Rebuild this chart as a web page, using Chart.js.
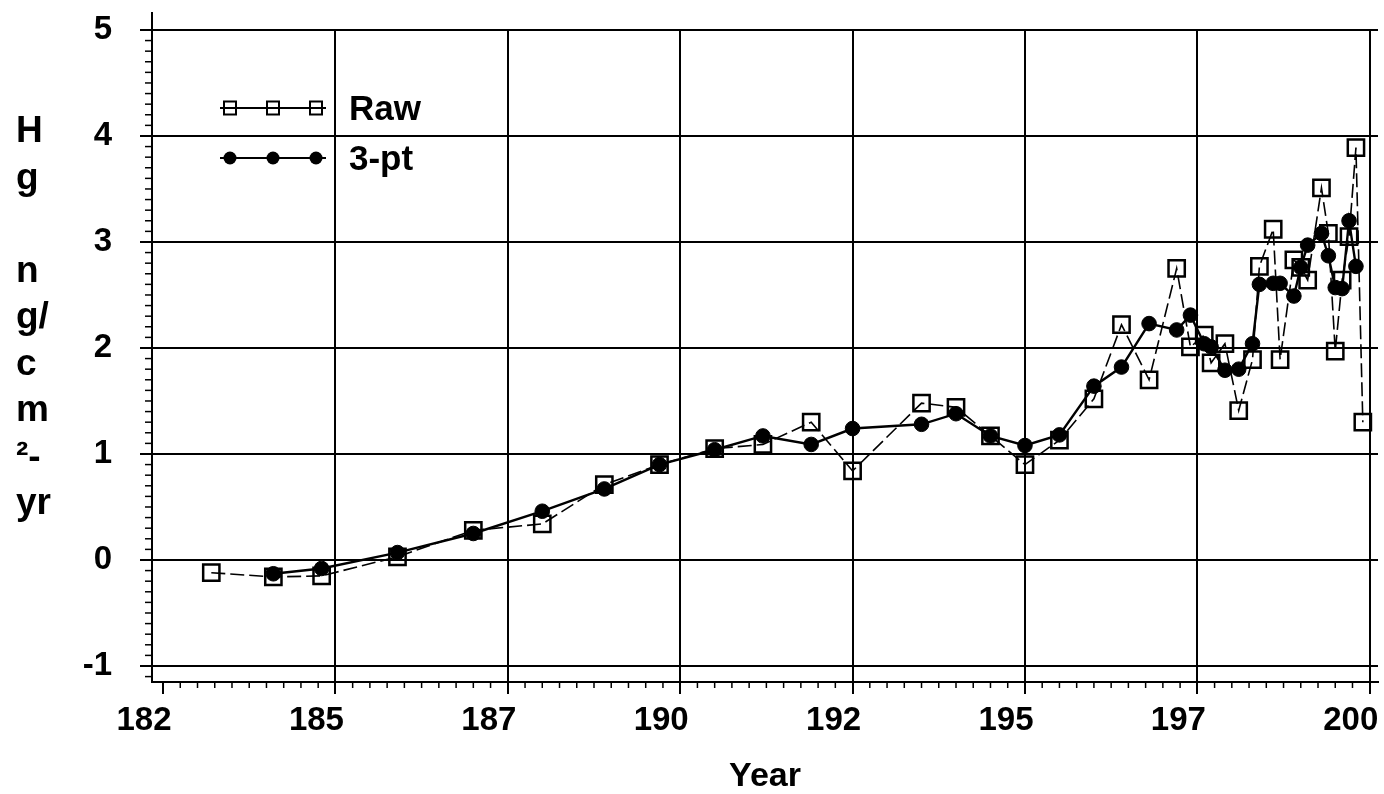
<!DOCTYPE html>
<html>
<head>
<meta charset="utf-8">
<title>Hg flux</title>
<script src="https://cdn.jsdelivr.net/npm/chart.js@4.4.0/dist/chart.umd.min.js"></script>
<style>
  html, body { margin: 0; padding: 0; background: #fff; }
  #wrap { width: 1384px; height: 794px; position: relative; }
</style>
</head>
<body>
<div id="wrap"><canvas id="c" width="1384" height="794"></canvas></div>
<script>
// Sediment core Hg accumulation (raw and 3-point running mean)
const rawYears = [1832, 1841, 1848, 1859, 1870, 1880, 1889, 1897, 1905, 1912, 1919, 1925, 1935, 1940,
  1945, 1950, 1955, 1960, 1964, 1968, 1972, 1974, 1976, 1977, 1979, 1981, 1983, 1984, 1986, 1987,
  1989, 1990, 1991, 1993, 1994, 1995, 1996, 1997, 1998, 1999];
const rawValues = [-0.12, -0.16, -0.15, 0.03, 0.28, 0.34, 0.71, 0.90, 1.05, 1.09, 1.30, 0.84, 1.48, 1.44,
  1.17, 0.90, 1.13, 1.52, 2.22, 1.70, 2.75, 2.01, 2.12, 1.86, 2.04, 1.41, 1.89, 2.77, 3.12, 1.89,
  2.83, 2.76, 2.64, 3.51, 3.08, 1.97, 2.64, 3.05, 3.89, 1.30];

const smoothYears = [1841, 1848, 1859, 1870, 1880, 1889, 1897, 1905, 1912, 1919, 1925, 1935, 1940,
  1945, 1950, 1955, 1960, 1964, 1968, 1972, 1974, 1976, 1977, 1979, 1981, 1983, 1984, 1986, 1987,
  1989, 1990, 1991, 1993, 1994, 1995, 1996, 1997, 1998];
const smoothValues = [-0.13, -0.08, 0.07, 0.25, 0.46, 0.67, 0.90, 1.04, 1.17, 1.09, 1.24, 1.28, 1.38,
  1.17, 1.08, 1.18, 1.64, 1.82, 2.23, 2.17, 2.31, 2.04, 2.01, 1.79, 1.80, 2.04, 2.60, 2.61, 2.61,
  2.49, 2.76, 2.97, 3.08, 2.87, 2.57, 2.56, 3.20, 2.77];

const seriesLabels = ['Raw', '3-pt'];
const xTickValues = [1825, 1850, 1875, 1900, 1925, 1950, 1975, 2000];
const xTickLabels = ['182', '185', '187', '190', '192', '195', '197', '200'];
const yTickValues = [-1, 0, 1, 2, 3, 4, 5];
const yTitleLines = ['H', 'g', '', 'n', 'g/', 'c', 'm', '\u00B2-', 'yr'];
const xTitle = 'Year';

const FONT = '"Liberation Sans", Arial, Helvetica, sans-serif';
const INK = '#000';

function toPoints(xs, ys) {
  return xs.map((x, i) => ({ x: x, y: ys[i] }));
}

// gridlines that start at the top tick, plus minor ticks on both axes
const axisDecor = {
  id: 'axisDecor',
  beforeDatasetsDraw(chart) {
    const { ctx, chartArea, scales: { x, y } } = chart;
    ctx.save();
    ctx.strokeStyle = INK;
    ctx.lineWidth = 2;
    const top = y.getPixelForValue(yTickValues[yTickValues.length - 1]);
    xTickValues.slice(1).forEach(v => {
      const px = Math.round(x.getPixelForValue(v));
      ctx.beginPath();
      ctx.moveTo(px, top);
      ctx.lineTo(px, chartArea.bottom);
      ctx.stroke();
    });
    ctx.lineWidth = 1.5;
    for (let i = 0; i <= 80; i++) {
      if (i % 10 === 0) continue;
      const px = x.getPixelForValue(1825 + i * 2.5);
      if (px > chartArea.right) break;
      ctx.beginPath();
      ctx.moveTo(px, chartArea.bottom);
      ctx.lineTo(px, chartArea.bottom + 6);
      ctx.stroke();
    }
    for (let k = -11; k < 50; k++) {
      if (k % 10 === 0) continue;
      const py = y.getPixelForValue(k / 10);
      ctx.beginPath();
      ctx.moveTo(chartArea.left - 7, py);
      ctx.lineTo(chartArea.left, py);
      ctx.stroke();
    }
    ctx.restore();
  }
};

// stacked y title and the line/marker legend
const annotations = {
  id: 'annotations',
  afterDraw(chart) {
    const { ctx } = chart;
    ctx.save();
    ctx.fillStyle = INK;
    ctx.textAlign = 'left';
    ctx.textBaseline = 'alphabetic';
    ctx.font = 'bold 37px ' + FONT;
    yTitleLines.forEach((t, i) => {
      if (t) ctx.fillText(t, 16, 142 + i * 46.5);
    });

    const rows = [
      { ds: chart.data.datasets[0], y: 108, textY: 120 },
      { ds: chart.data.datasets[1], y: 158, textY: 170 }
    ];
    const marks = [230, 273, 316];
    rows.forEach(row => {
      ctx.strokeStyle = INK;
      ctx.lineWidth = 2;
      ctx.setLineDash([]);
      ctx.beginPath();
      ctx.moveTo(220, row.y);
      ctx.lineTo(326, row.y);
      ctx.stroke();
      marks.forEach(mx => {
        if (row.ds.pointStyle === 'rect') {
          ctx.lineWidth = 2;
          ctx.strokeRect(mx - 6, row.y - 6.5, 12, 13);
        } else {
          ctx.beginPath();
          ctx.arc(mx, row.y, 6.5, 0, Math.PI * 2);
          ctx.fill();
        }
      });
      ctx.font = 'bold 35px ' + FONT;
      ctx.fillText(row.ds.label, 349, row.textY);
    });
    ctx.restore();
  }
};

new Chart(document.getElementById('c'), {
  type: 'line',
  data: {
    datasets: [
      {
        label: seriesLabels[0],
        data: toPoints(rawYears, rawValues),
        borderColor: INK,
        borderWidth: 1.6,
        borderDash: [14, 5],
        pointStyle: 'rect',
        pointRadius: 11.5,
        pointBorderWidth: 2.5,
        pointBorderColor: INK,
        pointBackgroundColor: 'rgba(0,0,0,0)',
        tension: 0,
        order: 1
      },
      {
        label: seriesLabels[1],
        data: toPoints(smoothYears, smoothValues),
        borderColor: INK,
        borderWidth: 2.4,
        pointStyle: 'circle',
        pointRadius: 7.3,
        pointBorderWidth: 1,
        pointBorderColor: INK,
        pointBackgroundColor: INK,
        tension: 0,
        order: 0
      }
    ]
  },
  options: {
    responsive: false,
    animation: false,
    devicePixelRatio: 1,
    layout: { autoPadding: false, padding: { top: 13, right: 6, left: 0, bottom: 0 } },
    plugins: { legend: { display: false }, tooltip: { enabled: false } },
    scales: {
      x: {
        type: 'linear',
        min: 1823.4,
        max: 2001.2,
        afterBuildTicks(scale) { scale.ticks = xTickValues.map(v => ({ value: v })); },
        afterFit(scale) {
          scale.height = 112;
          scale.paddingLeft = 0;
          scale.paddingRight = 0;
        },
        grid: { drawOnChartArea: false, drawTicks: true, tickLength: 12, color: INK, lineWidth: 2 },
        border: { display: true, color: INK, width: 2 },
        ticks: {
          color: INK,
          font: { family: FONT, size: 33, weight: 'bold' },
          padding: 7,
          labelOffset: -19,
          maxRotation: 0,
          autoSkip: false,
          callback: (value) => xTickLabels[xTickValues.indexOf(value)]
        },
        title: {
          display: true,
          text: xTitle,
          color: INK,
          font: { family: FONT, size: 34, weight: 'bold', lineHeight: 1 },
          padding: { top: 0, bottom: 0 }
        }
      },
      y: {
        type: 'linear',
        min: -1.151,
        max: 5.16,
        afterBuildTicks(scale) { scale.ticks = yTickValues.map(v => ({ value: v })); },
        afterFit(scale) {
          scale.width = 152;
          scale.paddingTop = 0;
          scale.paddingBottom = 0;
        },
        grid: { drawOnChartArea: true, drawTicks: true, tickLength: 12, color: INK, lineWidth: 2 },
        border: { display: true, color: INK, width: 2 },
        ticks: {
          color: INK,
          font: { family: FONT, size: 33, weight: 'bold' },
          padding: 28,
          callback: (value) => String(value)
        }
      }
    }
  },
  plugins: [axisDecor, annotations]
});
</script>
</body>
</html>
